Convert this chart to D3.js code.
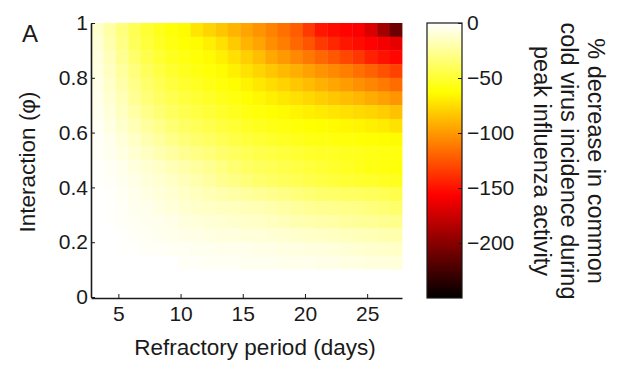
<!DOCTYPE html>
<html>
<head>
<meta charset="utf-8">
<script src="https://cdn.jsdelivr.net/npm/d3@7"></script>
<style>
  body { margin: 0; background: #fff; }
  text { font-family: "Liberation Sans", Arial, sans-serif; fill: #1a1a1a; }
</style>
</head>
<body>
<svg id="chart" width="624" height="374"></svg>
<script>
// refractory period (days), one per column
const days = [3, 4, 5, 6, 7, 8, 9, 10, 11, 12, 13, 14, 15, 16, 17, 18, 19, 20, 21, 22, 23, 24, 25, 26, 27];
// interaction phi, row centres, top row first
const phis = [0.975, 0.925, 0.875, 0.825, 0.775, 0.725, 0.675, 0.625, 0.575, 0.525,
              0.475, 0.425, 0.375, 0.325, 0.275, 0.225, 0.175, 0.125, 0.075, 0.025];
// % decrease in common cold virus incidence, rows follow phis, columns follow days
const decrease = [
  [-12,-22,-32,-42,-50,-56,-60,-64,-72,-78,-84,-90,-96,-102,-108,-115,-122,-135,-148,-152,-155,-158,-170,-190,-210],
  [-10,-20,-30,-40,-48,-54,-58,-62,-64,-68,-74,-82,-90,-96,-104,-110,-118,-125,-135,-142,-148,-152,-156,-160,-165],
  [-8,-17,-27,-36,-44,-50,-55,-58,-61,-64,-68,-74,-80,-86,-94,-100,-106,-112,-118,-124,-130,-136,-144,-150,-154],
  [-7,-15,-24,-32,-40,-46,-51,-55,-58,-61,-64,-68,-73,-78,-83,-88,-92,-97,-102,-106,-110,-115,-120,-126,-132],
  [-6,-13,-21,-29,-36,-42,-47,-51,-54,-57,-60,-63,-67,-71,-75,-79,-83,-87,-91,-95,-99,-103,-107,-111,-116],
  [-5,-11,-18,-26,-33,-38,-43,-47,-50,-53,-56,-59,-62,-65,-68,-71,-74,-77,-80,-83,-86,-89,-93,-97,-101],
  [-4,-9,-15,-22,-29,-34,-39,-43,-46,-49,-52,-55,-58,-60,-62,-64,-66,-68,-70,-72,-74,-76,-78,-81,-85],
  [-3,-7,-12,-18,-24,-29,-34,-38,-41,-44,-47,-50,-53,-55,-57,-59,-61,-62,-63,-64,-65,-66,-68,-70,-73],
  [-2,-5,-9,-14,-19,-24,-29,-33,-36,-39,-42,-45,-48,-50,-52,-54,-56,-57,-58,-59,-60,-61,-62,-63,-64],
  [-2,-4,-7,-11,-15,-19,-23,-27,-30,-33,-36,-39,-42,-44,-46,-48,-50,-52,-53,-54,-55,-56,-57,-58,-59],
  [-1,-3,-5,-8,-11,-14,-18,-21,-24,-27,-31,-35,-38,-40,-42,-44,-46,-48,-50,-52,-54,-56,-58,-59,-60],
  [-1,-2,-4,-6,-9,-11,-14,-17,-20,-23,-27,-30,-33,-36,-38,-40,-42,-44,-46,-48,-50,-51,-52,-54,-55],
  [0,-1,-3,-5,-7,-9,-11,-14,-16,-18,-20,-22,-24,-26,-28,-30,-32,-34,-36,-37,-38,-39,-40,-42,-44],
  [0,-1,-2,-4,-5,-7,-9,-11,-13,-14,-15,-16,-17,-18,-20,-22,-24,-26,-27,-28,-29,-30,-32,-34,-36],
  [0,-1,-2,-3,-4,-5,-6,-8,-9,-10,-11,-12,-13,-14,-15,-17,-19,-20,-21,-22,-24,-25,-26,-27,-28],
  [0,0,-1,-2,-3,-4,-5,-6,-6,-7,-8,-8,-9,-9,-10,-11,-12,-13,-14,-15,-16,-17,-18,-19,-20],
  [0,0,-1,-1,-2,-2,-3,-3,-4,-4,-5,-5,-5,-6,-6,-7,-7,-8,-8,-9,-10,-11,-12,-13,-14],
  [0,0,0,0,0,0,0,-2,-2,-3,-3,-3,-4,-4,-4,-5,-5,-5,-6,-6,-7,-7,-8,-8,-9],
  [0,0,0,0,0,0,0,0,0,0,0,0,0,0,0,0,0,0,0,0,0,0,0,0,0],
  [0,0,0,0,0,0,0,0,0,0,0,0,0,0,0,0,0,0,0,0,0,0,0,0,0]
];
const xTicks = [5, 10, 15, 20, 25];
const yTicks = [0, 0.2, 0.4, 0.6, 0.8, 1];
const cbTicks = [0, -50, -100, -150, -200];
const cbDomain = [-250, 0];

const svg = d3.select("#chart");

const x = d3.scaleLinear().domain([2.8, 27.8]).range([91, 402]);
const y = d3.scaleLinear().domain([0, 1]).range([297, 23]);
const halfRow = 0.025;

// MATLAB "hot" colormap, reversed: 0 -> white, -250 -> black
const color = d3.scaleLinear()
  .domain([-250, -156.25, -62.5, 0])
  .range(["#000000", "#ff0000", "#ffff00", "#ffffff"])
  .clamp(true);

const cells = [];
decrease.forEach((row, i) => {
  row.forEach((v, j) => cells.push({ day: days[j], phi: phis[i], v: v }));
});

svg.append("g").selectAll("rect")
  .data(cells).enter()
  .append("rect")
  .attr("x", d => x(d.day - 0.2))
  .attr("y", d => y(d.phi + halfRow))
  .attr("width", d => x(d.day + 0.8) - x(d.day - 0.2) + 0.4)
  .attr("height", d => y(d.phi - halfRow) - y(d.phi + halfRow) + 0.4)
  .attr("fill", d => color(d.v));

// axes
const xAxis = svg.append("g")
  .attr("transform", "translate(0,298)")
  .call(d3.axisBottom(x).tickValues(xTicks).tickSize(-4).tickSizeOuter(0).tickPadding(8));
const yAxis = svg.append("g")
  .attr("transform", "translate(91,0)")
  .call(d3.axisLeft(y).tickValues(yTicks).tickFormat(d => String(d)).tickSize(-4).tickSizeOuter(0).tickPadding(3));
[xAxis, yAxis].forEach(a => {
  a.select(".domain").attr("stroke", "#1a1a1a").attr("stroke-width", 1.6);
  a.selectAll(".tick line").attr("stroke", "#1a1a1a");
  a.selectAll(".tick text").attr("font-size", 21).attr("fill", "#1a1a1a")
    .style("font-family", "'Liberation Sans', Arial, sans-serif");
});

svg.append("text")
  .attr("x", 255).attr("y", 355)
  .attr("text-anchor", "middle")
  .attr("font-size", 22.5)
  .text("Refractory period (days)");

svg.append("text")
  .attr("transform", "translate(35,162) rotate(-90)")
  .attr("text-anchor", "middle")
  .attr("font-size", 22.5)
  .text("Interaction (φ)");

svg.append("text")
  .attr("x", 22).attr("y", 42)
  .attr("font-size", 24)
  .text("A");

// colorbar
const cbY = d3.scaleLinear().domain(cbDomain).range([298, 23]);
const cbX0 = 427, cbW = 35;
const grad = svg.append("defs").append("linearGradient")
  .attr("id", "hot").attr("x1", 0).attr("y1", 1).attr("x2", 0).attr("y2", 0);
color.domain().forEach(v => {
  grad.append("stop")
    .attr("offset", (v - cbDomain[0]) / (cbDomain[1] - cbDomain[0]))
    .attr("stop-color", color(v));
});
svg.append("rect")
  .attr("x", cbX0).attr("y", cbY(0))
  .attr("width", cbW).attr("height", cbY(-250) - cbY(0))
  .attr("fill", "url(#hot)")
  .attr("stroke", "#1a1a1a").attr("stroke-width", 1.2);

const cbAxis = svg.append("g")
  .attr("transform", `translate(${cbX0 + cbW},0)`)
  .call(d3.axisRight(cbY).tickValues(cbTicks).tickSize(-4).tickSizeOuter(0).tickPadding(5));
cbAxis.select(".domain").remove();
cbAxis.selectAll(".tick line").attr("stroke", "#1a1a1a");
cbAxis.selectAll(".tick text").attr("font-size", 21).attr("fill", "#1a1a1a")
  .style("font-family", "'Liberation Sans', Arial, sans-serif");

const cbTitle = ["% decrease in common", "cold virus incidence during", "peak influenza activity"];
svg.append("g").selectAll("text")
  .data(cbTitle).enter()
  .append("text")
  .attr("transform", (d, i) => `translate(${588 - i * 27},161) rotate(90)`)
  .attr("text-anchor", "middle")
  .attr("font-size", 23.5)
  .text(d => d);
</script>
</body>
</html>
